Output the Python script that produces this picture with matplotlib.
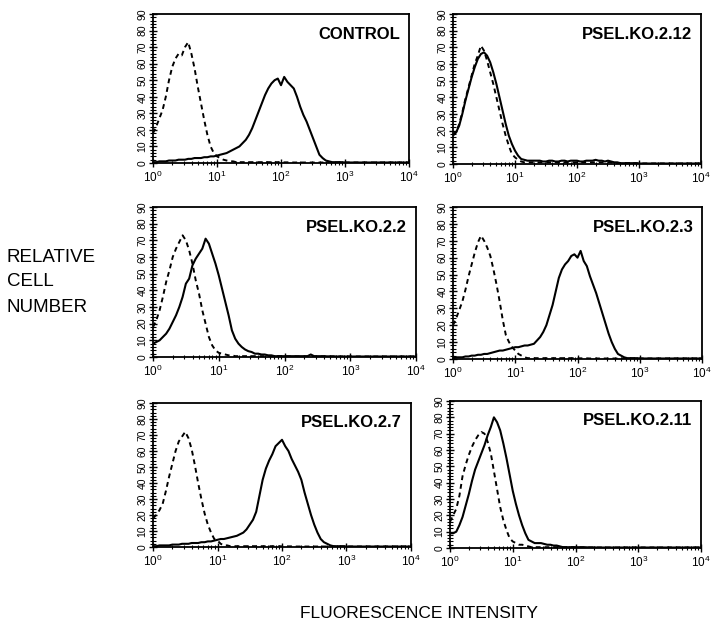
import numpy as np
import matplotlib
matplotlib.use('Agg')
import matplotlib.pyplot as plt
from matplotlib.ticker import MultipleLocator, LogLocator, FixedLocator

plt.rcParams['font.family'] = ['Liberation Sans', 'DejaVu Sans']
plt.rcParams['mathtext.fontset'] = 'custom'
plt.rcParams['mathtext.rm'] = 'Liberation Sans'
plt.rcParams['mathtext.default'] = 'regular'

# channels, 0.05 decade each, from 10^0 to 10^4
log_channel = np.arange(81) * 0.05
intensity = 10 ** log_channel

panel_names = ['CONTROL', 'PSEL.KO.2.12', 'PSEL.KO.2.2',
               'PSEL.KO.2.3', 'PSEL.KO.2.7', 'PSEL.KO.2.11']

tail = [0.3] * 21

# dashed = isotype control, solid = antibody staining
dashed_control = [18, 22, 27, 32, 40, 50, 58, 63, 66, 65,
                  70, 73, 66, 57, 46, 36, 26, 17, 10, 6,
                  4, 3, 2, 1.5, 1, 1, 0.5, 0.5, 0.5, 0.5,
                  0.5, 0.5, 0.5, 0.5, 0.5, 0.5, 0.5, 0.5, 0.5, 0.5,
                  0.4, 0.4, 0.4, 0.4, 0.3, 0.3, 0.3, 0.3, 0.3, 0.3,
                  0.3, 0.3, 0.3, 0.3, 0.3, 0.3, 0.3, 0.3, 0.3, 0.3] + tail
solid_control = [0.5, 0.5, 1, 1, 1, 1.5, 1.5, 1.5, 2, 2,
                 2, 2.5, 2.5, 3, 3, 3, 3.5, 3.5, 4, 4,
                 4.5, 5, 5.5, 6, 7, 8, 9, 10, 12, 14,
                 17, 21, 26, 31, 36, 41, 45, 48, 50, 51,
                 47, 52, 49, 47, 45, 40, 34, 29, 25, 20,
                 15, 10, 5, 3, 1.5, 1, 0.5, 0.5, 0.5, 0.5] + tail

dashed_ko212 = [17, 19, 24, 31, 39, 46, 53, 60, 65, 71,
                68, 62, 55, 48, 40, 32, 24, 17, 11, 6,
                4, 2.5, 1.5, 1, 1, 1, 1, 1, 1, 1,
                1, 1, 1, 1, 1, 1, 1, 1, 1, 1,
                1, 1, 1, 1, 1, 1, 1, 1, 1, 1,
                1, 1, 0.5, 0.5, 0.5, 0.5, 0.5, 0.5, 0.5, 0.5] + tail
solid_ko212 = [18, 19, 23, 30, 38, 45, 52, 58, 63, 66,
               67, 65, 61, 55, 48, 40, 32, 24, 17, 12,
               8, 5, 3, 2.5, 2, 2, 2, 2, 2, 1.5,
               1.5, 2, 2, 1.5, 1.5, 2, 2, 1.5, 2, 2,
               2, 1.5, 1.5, 2, 2, 2, 2.5, 2, 2, 1.5,
               2, 1.5, 1, 1, 0.5, 0.5, 0.5, 0.5, 0.5, 0.5] + tail

dashed_ko22 = [18, 22, 28, 36, 45, 52, 60, 65, 69, 73,
               70, 64, 56, 46, 38, 28, 20, 12, 7, 4,
               2.5, 2, 1.5, 1, 1, 0.5, 0.5, 0.5, 0.5, 0.5,
               0.5, 0.5, 0.5, 0.5, 0.5, 0.5, 0.5, 0.5, 0.5, 0.5,
               0.4, 0.4, 0.4, 0.4, 0.3, 0.3, 0.3, 0.3, 0.3, 0.3,
               0.3, 0.3, 0.3, 0.3, 0.3, 0.3, 0.3, 0.3, 0.3, 0.3] + tail
solid_ko22 = [8, 9, 10, 12, 14, 17, 21, 25, 30, 36,
              44, 47, 55, 59, 62, 65, 71, 68, 62, 56,
              49, 41, 33, 25, 16, 11, 8, 6, 4.5, 3.5,
              3, 2, 2, 1.5, 1.5, 1, 1, 0.5, 0.5, 0.5,
              0.5, 0.5, 0.5, 0.5, 0.5, 0.5, 0.5, 0.5, 1.5, 0.5,
              0.5, 0.5, 0.5, 0.4, 0.4, 0.4, 0.3, 0.3, 0.3, 0.3] + tail

dashed_ko23 = [20, 24, 29, 34, 41, 49, 56, 63, 69, 73,
               70, 66, 61, 53, 44, 34, 23, 14, 10, 7,
               5, 3, 2, 1, 0.5, 0.5, 0.5, 0.5, 0.5, 0.5,
               0.5, 0.5, 0.5, 0.5, 0.5, 0.5, 0.5, 0.5, 0.5, 0.5,
               0.4, 0.4, 0.4, 0.4, 0.3, 0.3, 0.3, 0.3, 0.3, 0.3,
               0.3, 0.3, 0.3, 0.3, 0.3, 0.3, 0.3, 0.3, 0.3, 0.3] + tail
solid_ko23 = [0.5, 1, 1, 1, 1.5, 1.5, 2, 2, 2.5, 2.5,
              3, 3, 3.5, 4, 4.5, 5, 5, 5.5, 6, 6.5,
              7, 7, 7.5, 8, 8, 8.5, 9, 11, 13, 16,
              20, 26, 32, 40, 48, 53, 56, 58, 61, 62,
              60, 64, 58, 55, 49, 44, 39, 33, 27, 21,
              15, 10, 6, 3, 2, 1, 0.5, 0.5, 0.5, 0.5] + tail

dashed_ko27 = [18, 20, 23, 27, 35, 44, 52, 60, 66, 69,
               72, 68, 61, 51, 40, 30, 21, 14, 9, 5,
               4, 2, 1, 1, 0.5, 0.5, 0.5, 0.5, 0.5, 0.5,
               0.5, 0.5, 0.5, 0.5, 0.5, 0.5, 0.5, 0.5, 0.5, 0.5,
               0.4, 0.4, 0.4, 0.4, 0.3, 0.3, 0.3, 0.3, 0.3, 0.3,
               0.3, 0.3, 0.3, 0.3, 0.3, 0.3, 0.3, 0.3, 0.3, 0.3] + tail
solid_ko27 = [0.5, 0.5, 1, 1, 1, 1, 1.5, 1.5, 1.5, 2,
              2, 2, 2.5, 2.5, 2.5, 3, 3, 3.5, 3.5, 4,
              4.5, 5, 5, 5.5, 6, 6.5, 7, 8, 9, 11,
              14, 17, 22, 32, 42, 49, 54, 58, 63, 65,
              67, 63, 60, 55, 51, 47, 42, 34, 27, 20,
              14, 9, 5, 3, 2, 1, 0.5, 0.5, 0.5, 0.5] + tail

dashed_ko211 = [16, 20, 24, 32, 44, 51, 57, 62, 66, 69,
                71, 70, 65, 58, 47, 36, 25, 17, 11, 6,
                4, 3, 2, 2, 1.5, 1, 0.5, 0.5, 0.5, 0.5,
                0.5, 0.5, 0.5, 0.5, 0.5, 0.5, 0.5, 0.5, 0.5, 0.5,
                0.4, 0.4, 0.4, 0.4, 0.3, 0.3, 0.3, 0.3, 0.3, 0.3,
                0.3, 0.3, 0.3, 0.3, 0.3, 0.3, 0.3, 0.3, 0.3, 0.3] + tail
solid_ko211 = [9, 9, 10, 14, 19, 26, 33, 41, 48, 53,
               58, 63, 69, 74, 80, 77, 72, 64, 55, 45,
               35, 27, 20, 14, 9, 5, 4, 3, 3, 3,
               2.5, 2, 2, 1.5, 1.5, 1, 0.5, 0.5, 0.5, 0.5,
               0.5, 0.5, 0.5, 0.5, 0.4, 0.4, 0.4, 0.3, 0.3, 0.3,
               0.3, 0.3, 0.3, 0.3, 0.3, 0.3, 0.3, 0.3, 0.3, 0.3] + tail

dashed_all = [dashed_control, dashed_ko212, dashed_ko22,
              dashed_ko23, dashed_ko27, dashed_ko211]
solid_all = [solid_control, solid_ko212, solid_ko22,
             solid_ko23, solid_ko27, solid_ko211]

# panel frames in pixels: left, top, right, bottom
boxes = [(153, 14, 409, 163), (453, 14, 701, 164),
         (153, 207, 416, 357), (453, 207, 702, 359),
         (153, 403, 411, 547), (450, 401, 701, 548)]

W, H = 714, 642
fig = plt.figure(figsize=(W / 100, H / 100), dpi=100)

for name, box, dashed, solid in zip(panel_names, boxes, dashed_all, solid_all):
    l, t, r, b = box
    ax = fig.add_axes([l / W, 1 - b / H, (r - l) / W, (b - t) / H])
    ax.plot(intensity, dashed, color='k', lw=1.4, ls=(0, (2.5, 2)))
    ax.plot(intensity, solid, color='k', lw=1.5)
    ax.set_xscale('log')
    ax.set_xlim(1, 1e4)
    ax.set_ylim(0, 90)

    ax.xaxis.set_major_locator(FixedLocator([1, 10, 100, 1000, 10000]))
    ax.set_xticklabels([r'$10^0$', r'$10^1$', r'$10^2$', r'$10^3$', r'$10^4$'])
    ax.xaxis.set_minor_locator(LogLocator(base=10, subs=np.arange(2, 10)))
    ax.yaxis.set_major_locator(MultipleLocator(10))
    ax.yaxis.set_minor_locator(MultipleLocator(2))

    ax.tick_params(axis='x', which='major', direction='inout', length=6,
                   width=1, labelsize=8.5, pad=2)
    ax.tick_params(axis='x', which='minor', direction='inout', length=3, width=0.8)
    ax.tick_params(axis='y', which='major', direction='inout', length=6,
                   width=1, labelsize=7.5, pad=1)
    ax.tick_params(axis='y', which='minor', direction='inout', length=4, width=0.8)
    for lab in ax.get_yticklabels():
        lab.set_rotation(90)
        lab.set_va('center')

    for sp in ax.spines.values():
        sp.set_linewidth(1.3)

    ax.text(0.965, 0.865, name, transform=ax.transAxes, ha='right', va='center',
            fontsize=12, fontweight='bold')

fig.text(7 / W, 1 - 257 / H, 'RELATIVE', fontsize=13.5, va='center', ha='left')
fig.text(7 / W, 1 - 282 / H, 'CELL', fontsize=13.5, va='center', ha='left')
fig.text(7 / W, 1 - 307 / H, 'NUMBER', fontsize=13.5, va='center', ha='left')
fig.text(419 / W, 1 - 613 / H, 'FLUORESCENCE INTENSITY', fontsize=12.5,
         va='center', ha='center')

fig.savefig('out.png', dpi=100)
plt.close(fig)
